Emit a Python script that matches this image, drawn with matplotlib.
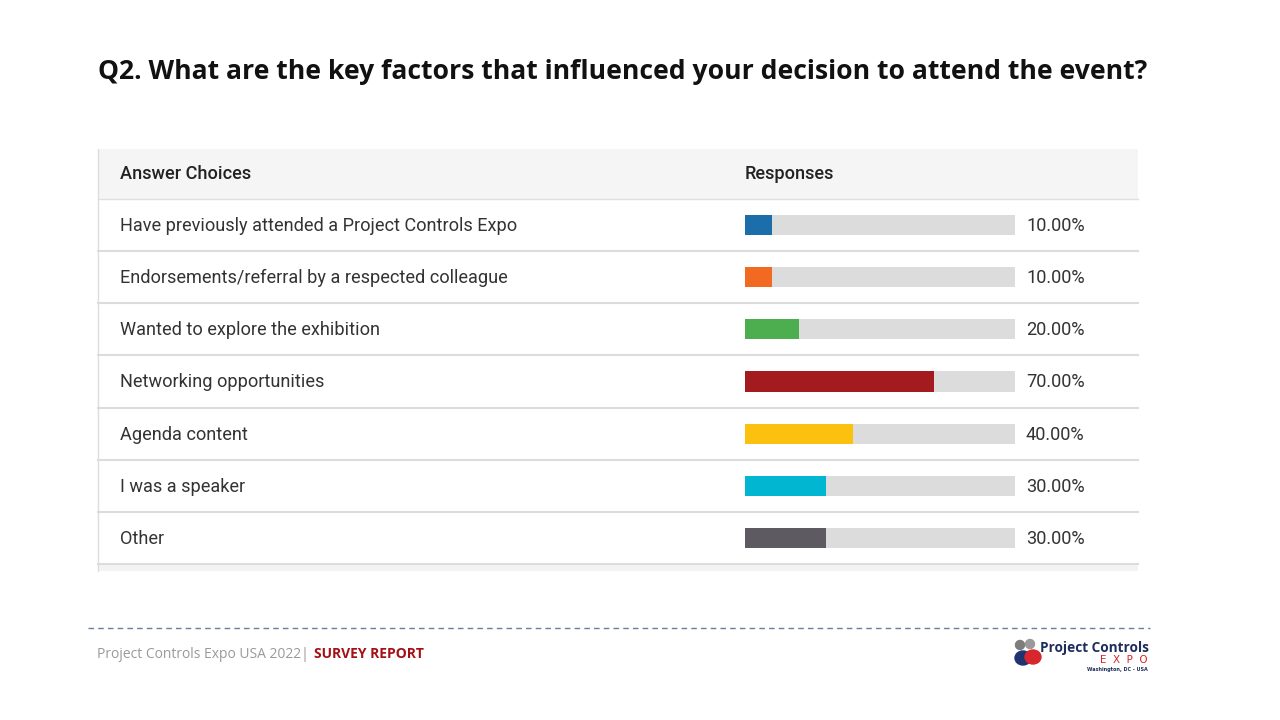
import matplotlib.pyplot as plt
from matplotlib.patches import Rectangle, Ellipse, Circle

# data
choices = [
    "Have previously attended a Project Controls Expo",
    "Endorsements/referral by a respected colleague",
    "Wanted to explore the exhibition",
    "Networking opportunities",
    "Agenda content",
    "I was a speaker",
    "Other",
]
responses = [10, 10, 20, 70, 40, 30, 30]
bar_colors = ["#1b6ea9", "#f26a22", "#4cae4f", "#a31b1e", "#fcc10f", "#00b6d0", "#5d5a61"]

W, H = 1280, 720
fig = plt.figure(figsize=(12.8, 7.2), dpi=100)
fig.patch.set_facecolor("white")

# page overlay in pixel coordinates
page = fig.add_axes([0, 0, 1, 1])
page.set_xlim(0, W)
page.set_ylim(H, 0)
page.axis("off")

page.text(98, 72, "Q2. What are the key factors that influenced your decision to attend the event?",
          fontsize=19.1, fontweight="bold", family="Open Sans", color="#111111", va="center")

# table layout
tl, tr = 98, 1138
top, head_bot = 149, 199
row_h = 52.14
n = len(choices)
tbot = head_bot + n * row_h

page.add_patch(Rectangle((tl, top), tr - tl, head_bot - top, color="#f5f5f5", lw=0))
page.add_patch(Rectangle((tl, tbot), tr - tl, 7, color="#f3f3f3", lw=0))
page.plot([tl, tl], [top, tbot + 7], color="#dddddd", lw=1)
page.plot([tl, tr], [head_bot, head_bot], color="#e0e0e0", lw=1)
for i in range(n):
    y = head_bot + (i + 1) * row_h
    page.plot([tl, tr], [y, y], color="#dcdcdc", lw=1.5)

fs = 13.1
page.text(120, 174, "Answer Choices", fontsize=fs, family="Roboto", fontweight="medium",
          color="#222222", va="center")
page.text(745, 174, "Responses", fontsize=fs, family="Roboto", fontweight="medium",
          color="#222222", va="center")

for i, (lab, v) in enumerate(zip(choices, responses)):
    yc = head_bot + (i + 0.5) * row_h
    page.text(120, yc + 1, lab, fontsize=fs, family="Roboto", color="#333333", va="center")
    page.text(1026, yc + 1, f"{v:.2f}%", fontsize=fs, family="Roboto", color="#333333", va="center")

# bar axes
bx0, bx1 = 745, 1015
ax = fig.add_axes([bx0 / W, 1 - tbot / H, (bx1 - bx0) / W, (tbot - head_bot) / H])
ax.set_xlim(0, 100)
ax.set_ylim(n - 0.5, -0.5)
ypos = list(range(n))
ax.barh(ypos, [100] * n, height=0.385, color="#dcdcdc", lw=0)
ax.barh(ypos, responses, height=0.385, color=bar_colors, lw=0)
ax.axis("off")

# footer
page.plot([88, 1150], [628, 628], color="#6a7f99", lw=1, ls=(0, (4, 3)))
page.text(97, 654, "Project Controls Expo USA 2022| ", fontsize=10, family="Open Sans",
          color="#9a9a9a", va="center")
page.text(314, 654, "SURVEY REPORT", fontsize=10, family="Open Sans", fontweight="bold",
          color="#a50f15", va="center")

# logo
page.add_patch(Circle((1020, 645), 4.5, color="#7d7d7d"))
page.add_patch(Circle((1030, 644), 4.5, color="#9a9a9a"))
page.add_patch(Ellipse((1023, 658), 16, 14, color="#1f3370"))
page.add_patch(Ellipse((1033, 657), 16, 14, color="#d7262d"))
page.text(1040, 648, "Project Controls", fontsize=9.8, family="Open Sans", fontweight="bold",
          color="#1f2d5c", va="center")
page.text(1148, 660, "E  X  P  O", fontsize=7.5, family="DejaVu Sans", color="#d7262d",
          va="center", ha="right")
page.text(1148, 669, "Washington, DC - USA", fontsize=3.5, family="DejaVu Sans",
          fontweight="bold", color="#1f2d5c", va="center", ha="right")

plt.savefig("out.png", dpi=100)
plt.close()
